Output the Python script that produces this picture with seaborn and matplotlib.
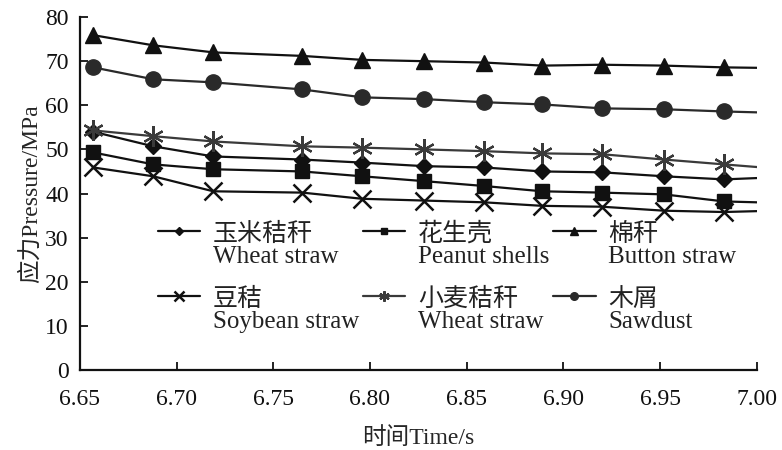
import matplotlib
matplotlib.use("Agg")
import matplotlib.pyplot as plt
import seaborn as sns
import numpy as np
import pandas as pd

# ---- data ----
time = [6.657, 6.688, 6.719, 6.765, 6.796, 6.828, 6.859, 6.889, 6.920, 6.952, 6.983, 7.000]

corn_straw    = [54.0, 50.7, 48.4, 47.7, 47.0, 46.2, 45.9, 45.0, 44.8, 43.9, 43.2, 43.5]
peanut_shells = [49.3, 46.6, 45.5, 45.0, 43.9, 42.8, 41.7, 40.5, 40.2, 39.8, 38.2, 38.0]
cotton_straw  = [75.9, 73.6, 72.0, 71.2, 70.3, 70.0, 69.7, 69.0, 69.2, 69.0, 68.6, 68.5]
soybean_straw = [45.9, 43.9, 40.5, 40.2, 38.8, 38.4, 38.0, 37.2, 37.0, 36.1, 35.8, 36.0]
wheat_straw   = [54.3, 53.0, 51.8, 50.7, 50.4, 50.0, 49.6, 49.1, 48.9, 47.7, 46.6, 46.0]
sawdust       = [68.6, 65.9, 65.2, 63.6, 61.8, 61.4, 60.7, 60.2, 59.3, 59.1, 58.6, 58.4]

labels_cn = ["玉米秸秆", "花生壳", "棉秆", "豆秸", "小麦秸秆", "木屑"]
labels_en = ["Wheat straw", "Peanut shells", "Button straw",
             "Soybean straw", "Wheat straw", "Sawdust"]
x_ticks = [6.65, 6.70, 6.75, 6.80, 6.85, 6.90, 6.95, 7.00]
y_ticks = [0, 10, 20, 30, 40, 50, 60, 70, 80]

series = [corn_straw, peanut_shells, cotton_straw, soybean_straw, wheat_straw, sawdust]

# ---- style ----
sns.set_style("ticks")
FAM = ['Liberation Serif', 'Noto Sans CJK SC']
plt.rcParams['font.family'] = FAM

styles = [
    dict(marker="D", ms=8,  color="#111111", mew=1.0),
    dict(marker="s", ms=10, color="#111111", mew=1.0),
    dict(marker="^", ms=11, color="#111111", mew=1.0),
    dict(marker="x", ms=13, color="#111111", mew=1.8),
    dict(marker=(6, 2, 0), ms=15, color="#3a3a3a", mew=1.6),
    dict(marker="o", ms=11, color="#2a2a2a", mew=1.0),
]

fig = plt.figure(figsize=(7.82, 4.5), dpi=100)
ax = fig.add_axes([0.102, 0.178, 0.866, 0.784])

n = len(time)
for vals, cn, en, st in zip(series, labels_cn, labels_en, styles):
    df = pd.DataFrame({"t": time, "p": vals})
    sns.lineplot(data=df, x="t", y="p", ax=ax, color=st["color"], lw=1.6,
                 marker=st["marker"], markersize=st["ms"], markeredgewidth=st["mew"],
                 markeredgecolor=st["color"], markerfacecolor=st["color"],
                 markevery=list(range(n - 1)), label=f"{cn}\n{en}")

ax.set_xlim(6.65, 7.00)
ax.set_ylim(0, 80)
ax.set_xticks(x_ticks)
ax.set_xticklabels([f"{v:.2f}" for v in x_ticks])
ax.set_yticks(y_ticks)
ax.tick_params(direction="in", length=6, width=1.3, labelsize=17, colors="#111111")
ax.tick_params(axis="x", pad=14)
ax.tick_params(axis="y", pad=8)
sns.despine(ax=ax)
for s in ["left", "bottom"]:
    ax.spines[s].set_linewidth(1.6)
    ax.spines[s].set_color("#111111")

ax.set_xlabel("时间Time/s", fontsize=17, family=FAM, labelpad=12)
ax.set_ylabel("应力Pressure/MPa", fontsize=17, family=FAM, labelpad=2)

h, l = ax.get_legend_handles_labels()
order = [0, 3, 1, 4, 2, 5]  # row-major fill for 3 columns x 2 rows
leg = ax.legend([h[i] for i in order], [l[i] for i in order],
                loc="upper left", bbox_to_anchor=(0.097, 0.455), ncol=3, frameon=False,
                fontsize=18, handlelength=1.7, handletextpad=0.5, columnspacing=0.15,
                labelspacing=0.8, markerscale=0.5, borderpad=0)
for t in leg.get_texts():
    t.set_linespacing(1.0)
    t.set_color("#222222")
for col in leg._legend_handle_box.get_children():
    for row in col.get_children():
        row.align = "top"

fig.savefig("out.png", dpi=100)
